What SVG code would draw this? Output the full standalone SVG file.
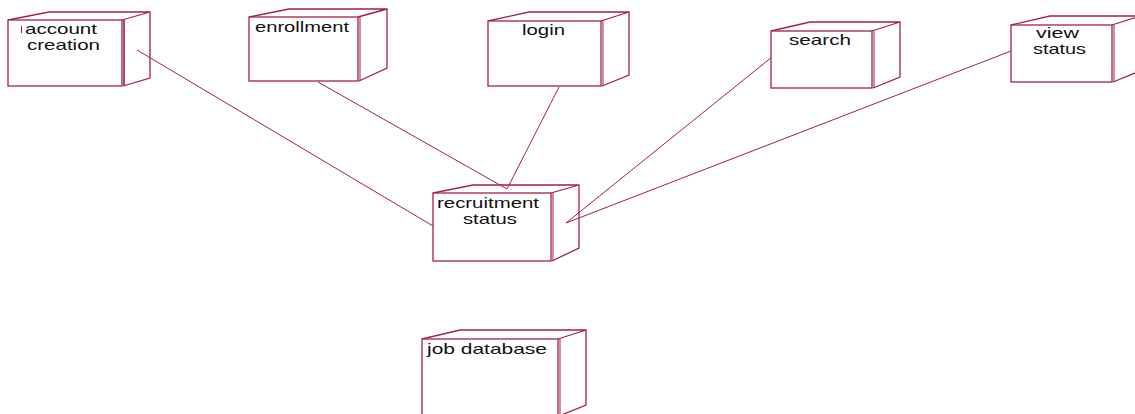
<svg xmlns="http://www.w3.org/2000/svg" width="1135" height="414" viewBox="0 0 1135 414">
<style>
.n{fill:#fff;stroke:#a31f4c;stroke-width:1.3}
.s{fill:none;stroke:#a31f4c;stroke-width:1.3;stroke-linejoin:miter}
.c{fill:none;stroke:#a31f4c;stroke-width:1}
.t{font-family:"Liberation Sans",Arial,sans-serif;font-size:15px;fill:#111}
</style>
<rect width="1135" height="414" fill="#fff"/>
<g id="connectors">
<line class="c" x1="137" y1="50" x2="433" y2="226"/>
<line class="c" x1="318" y1="82" x2="507" y2="189"/>
<line class="c" x1="559" y1="87" x2="507" y2="189"/>
<line class="c" x1="772" y1="57" x2="566" y2="223"/>
<line class="c" x1="1011" y1="51" x2="566" y2="223"/>
</g>
<g id="account-creation">
<path class="s" d="M8,20 L49,12 L150,12 L150,78 L123,86 M122,20 L150,12 M124,20 L124,86"/>
<rect class="n" x="8" y="20" width="114" height="66"/>
<line class="c" x1="124" y1="20" x2="124" y2="86"/>
<line x1="21.5" y1="26" x2="21.5" y2="33" stroke="#a31f4c" stroke-width="1"/>
<text class="t" x="25" y="34" textLength="72" lengthAdjust="spacingAndGlyphs">account</text>
<text class="t" x="27" y="50" textLength="73" lengthAdjust="spacingAndGlyphs">creation</text>
</g>
<g id="enrollment">
<path class="s" d="M249,17 L289,9 L387,9 L387,68 L359,81 M358,17 L387,9"/>
<rect class="n" x="249" y="17" width="109" height="64"/>
<line class="c" x1="360" y1="17" x2="360" y2="81"/>
<text class="t" x="255" y="32" textLength="94" lengthAdjust="spacingAndGlyphs">enrollment</text>
</g>
<g id="login">
<path class="s" d="M488,21 L529,12 L629,12 L629,75 L602,86 M601,21 L629,12"/>
<rect class="n" x="488" y="21" width="113" height="65"/>
<line class="c" x1="603" y1="21" x2="603" y2="86"/>
<text class="t" x="522" y="35" textLength="43" lengthAdjust="spacingAndGlyphs">login</text>
</g>
<g id="search">
<path class="s" d="M771,31 L810,22 L900,22 L900,77 L873,88 M872,31 L900,22"/>
<rect class="n" x="771" y="31" width="101" height="57"/>
<line class="c" x1="874" y1="31" x2="874" y2="88"/>
<text class="t" x="789" y="45" textLength="62" lengthAdjust="spacingAndGlyphs">search</text>
</g>
<g id="view-status">
<path class="s" d="M1011,25 L1050,16 L1140,16 L1140,71 L1113,82 M1112,25 L1140,16"/>
<rect class="n" x="1011" y="25" width="101" height="57"/>
<line class="c" x1="1114" y1="25" x2="1114" y2="82"/>
<text class="t" x="1036" y="38" textLength="43" lengthAdjust="spacingAndGlyphs">view</text>
<text class="t" x="1033" y="54" textLength="53" lengthAdjust="spacingAndGlyphs">status</text>
</g>
<g id="recruitment-status">
<path class="s" d="M433,193 L473,185 L579,185 L579,248 L552,261 M551,193 L579,185"/>
<rect class="n" x="433" y="193" width="118" height="68"/>
<line class="c" x1="553" y1="193" x2="553" y2="261"/>
<text class="t" x="437" y="208" textLength="102" lengthAdjust="spacingAndGlyphs">recruitment</text>
<text class="t" x="463" y="224" textLength="54" lengthAdjust="spacingAndGlyphs">status</text>
</g>
<g id="job-database">
<path class="s" d="M422,339 L460,330 L586,330 L586,405 L559,416 M558,339 L586,330"/>
<rect class="n" x="422" y="339" width="136" height="80"/>
<line class="c" x1="560" y1="339" x2="560" y2="420"/>
<text class="t" x="427" y="354" textLength="120" lengthAdjust="spacingAndGlyphs">job database</text>
</g>
</svg>
